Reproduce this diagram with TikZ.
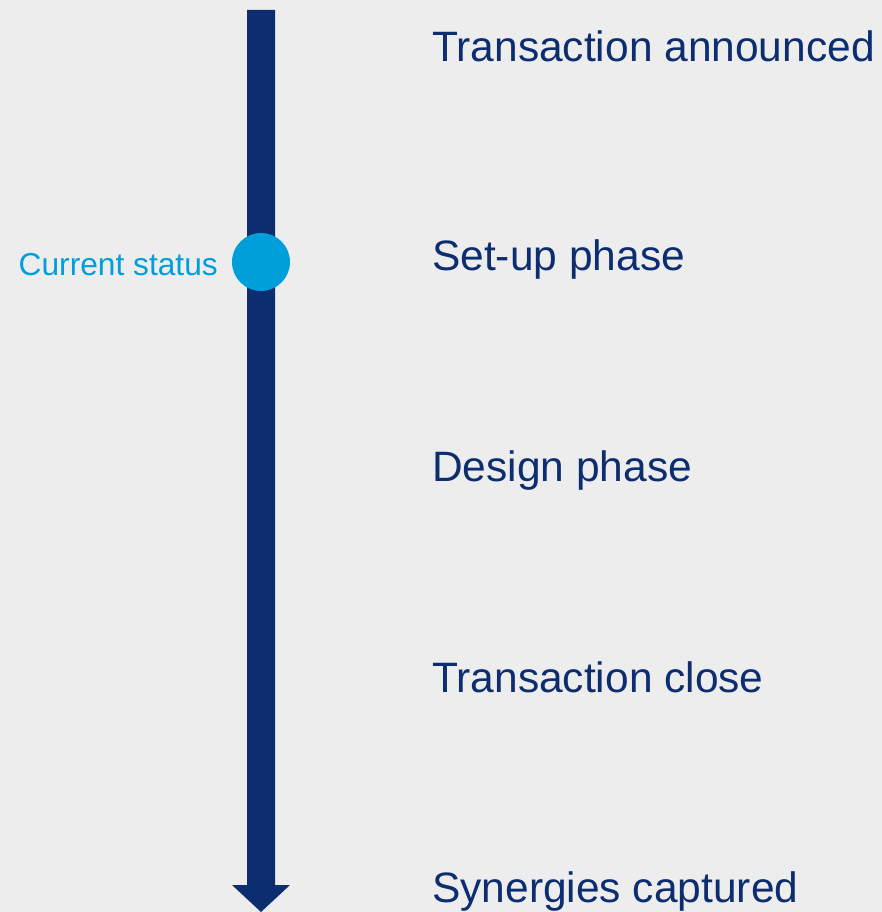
\documentclass[tikz,border=0pt]{standalone}
\usepackage{fontspec}
\setmainfont{Liberation Sans}
\definecolor{bg}{HTML}{EDEDED}
\definecolor{navy}{HTML}{0C2D6F}
\definecolor{sky}{HTML}{009FDA}
\tikzset{
  phase/.style={anchor=base west, inner sep=0pt, text=navy, font=\fontsize{42.5}{50}\selectfont},
  status/.style={anchor=base east, inner sep=0pt, text=sky, font=\fontsize{31.7}{38}\selectfont},
  dot/.style={circle, fill=sky, minimum size=58pt, inner sep=0pt},
}
\begin{document}
\begin{tikzpicture}[x=1pt, y=-1pt]
\fill[bg] (0,0) rectangle (882,912);
\useasboundingbox (0,0) rectangle (882,912);
% timeline arrow
\coordinate (top) at (261,10);
\coordinate (neck) at (261,885);
\coordinate (tip) at (261,912);
\fill[navy] ([xshift=-14pt]top) -- ([xshift=14pt]top) -- ([xshift=14pt]neck) -- ([xshift=29pt]neck) -- (tip) -- ([xshift=-29pt]neck) -- ([xshift=-14pt]neck) -- cycle;
% current status marker
\node[dot] (cur) at (261,262) {};
\node[status] (curlbl) at (218,275) {Current status};
% phases
\node[phase] (p1) at (432,62) {Transaction announced};
\node[phase] (p2) at (432,270) {Set-up phase};
\node[phase] (p3) at (432,481) {Design phase};
\node[phase] (p4) at (432,692) {Transaction close};
\node[phase] (p5) at (432,902) {Synergies captured};
\end{tikzpicture}
\end{document}
